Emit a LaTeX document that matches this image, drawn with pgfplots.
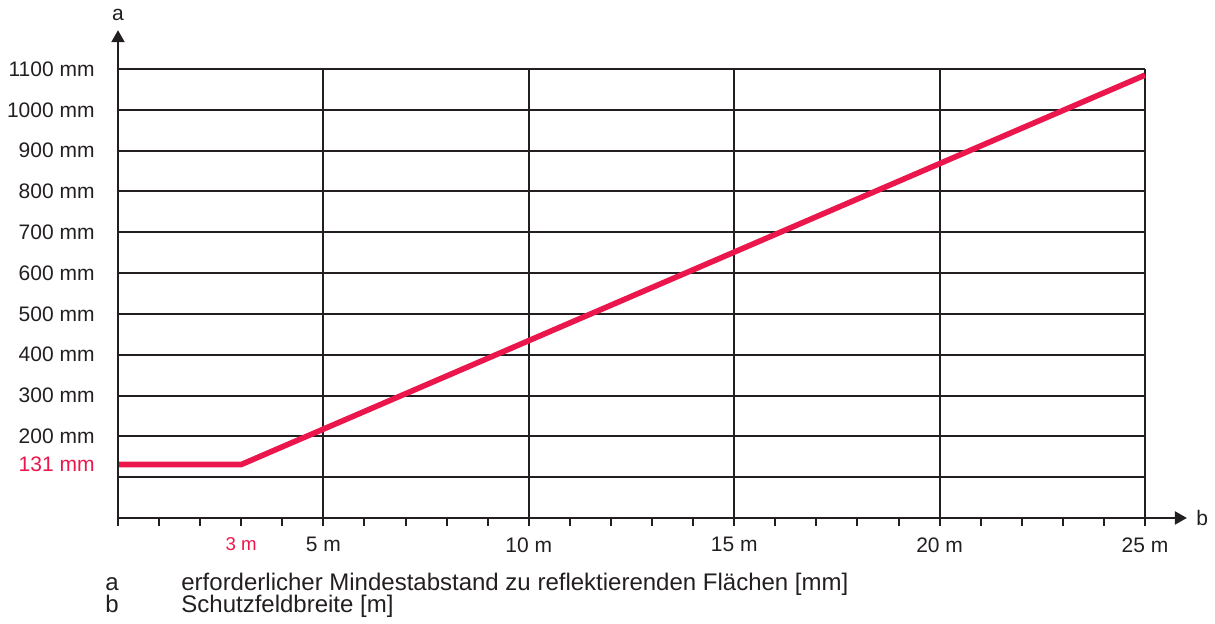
\documentclass[border=0pt]{standalone}
\usepackage{fontspec}
\setmainfont{Liberation Sans}
\usepackage{pgfplots}
\pgfplotsset{compat=1.18}
\usetikzlibrary{arrows.meta}
\definecolor{redl}{RGB}{234,22,76}
\definecolor{gridc}{RGB}{35,31,32}
\begin{document}
\fontsize{10.5}{12.6}\selectfont
\begin{tikzpicture}
\useasboundingbox (0,0) rectangle (607.5pt,312pt);
\begin{axis}[
  at={(59pt,53pt)}, anchor=south west,
  scale only axis, width=513.5pt, height=224.5pt,
  xmin=0, xmax=25, ymin=0, ymax=1100,
  clip=false,
  axis lines=left,
  axis line style={draw=none},
  xtick={5,10,15,20,25},
  xticklabels={5 m,10 m,15 m,20 m,25 m},
  minor xtick={0,1,...,25},
  ytick={100,200,...,1100},
  yticklabels={,200 mm,300 mm,400 mm,500 mm,600 mm,700 mm,800 mm,900 mm,1000 mm,1100 mm},
  tick align=outside,
  major tick length=4pt, minor tick length=4pt,
  xtick style={gridc, line width=1pt},
  minor x tick style={gridc, line width=1pt},
  ytick style={draw=none},
  grid=major,
  major grid style={gridc, line width=1pt},
  tick label style={font=\fontsize{10.5}{12.6}\selectfont, text=gridc},
  xticklabel style={yshift=-2pt},
  yticklabel style={xshift=-4pt},
  extra x ticks={3},
  extra x tick labels={3 m},
  extra x tick style={grid=none, tick style={draw=none}, tick label style={text=redl, font=\fontsize{9.3}{11}\selectfont}},
  extra y ticks={131},
  extra y tick labels={131 mm},
  extra y tick style={grid=none, tick label style={text=redl}},
]
\addplot[redl, line width=2.8pt, line join=miter] coordinates {(0,131) (3,131) (25,1085)};
\draw[gridc, line width=1.1pt, -{Triangle[width=6.5pt,length=6pt]}] (axis cs:0,0) -- (axis cs:26.02,0);
\draw[gridc, line width=1.1pt, -{Triangle[width=6.5pt,length=6pt]}] (axis cs:0,0) -- (axis cs:0,1195);
\end{axis}
\node[text=gridc] at (59pt,304.5pt) {a};
\node[anchor=west, inner sep=0pt, text=gridc] at (598pt,53pt) {b};
\begin{scope}[every node/.style={anchor=base west, inner sep=0pt, text=gridc, font=\fontsize{12}{14}\selectfont}]
\node at (52.5pt,16.5pt) {a};
\node at (90.5pt,16.5pt) {erforderlicher Mindestabstand zu reflektierenden Flächen [mm]};
\node at (52.5pt,5.5pt) {b};
\node at (90.5pt,5.5pt) {Schutzfeldbreite [m]};
\end{scope}
\end{tikzpicture}
\end{document}
